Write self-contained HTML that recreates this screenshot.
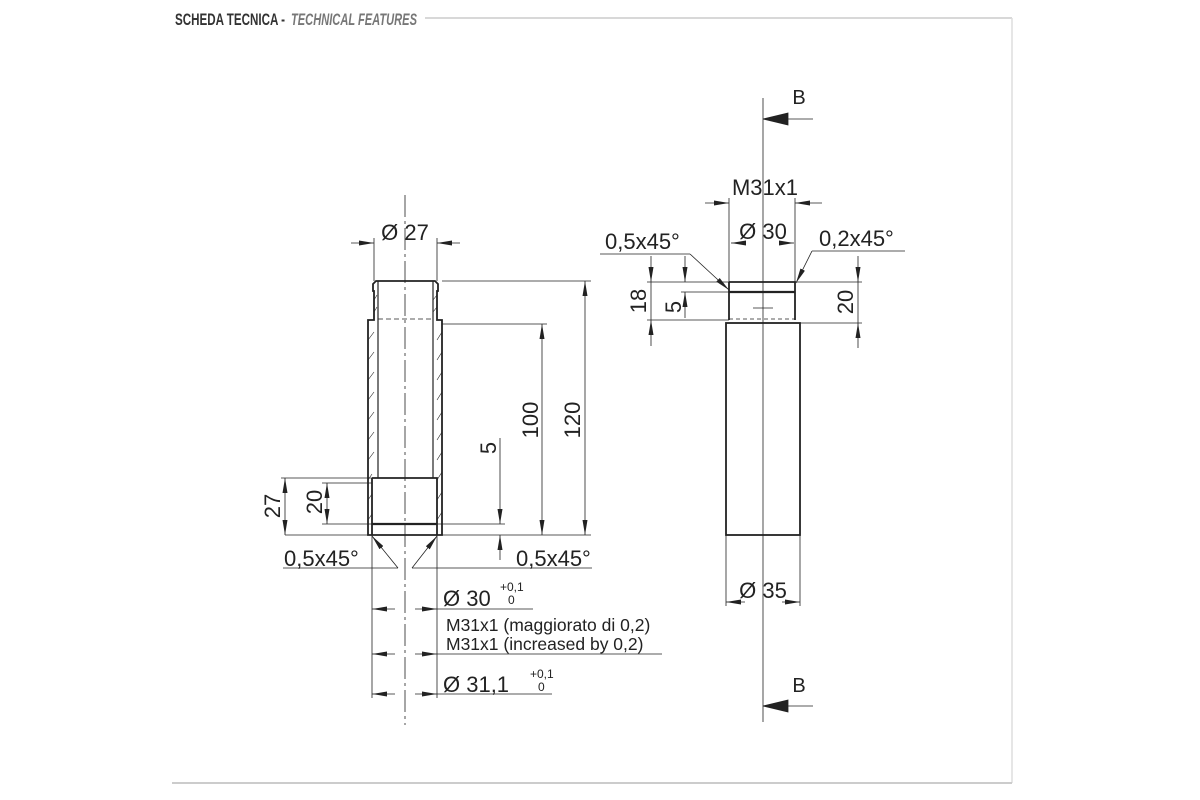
<!DOCTYPE html>
<html><head><meta charset="utf-8"><style>
html,body{margin:0;padding:0;background:#fff;}
svg{display:block;}
text{font-family:"Liberation Sans",sans-serif;fill:#222;}
</style></head><body>
<svg width="1200" height="800" viewBox="0 0 1200 800" xmlns="http://www.w3.org/2000/svg">
<defs>
<marker id="a" viewBox="0 0 10 10" refX="10" refY="5" markerWidth="15" markerHeight="5" markerUnits="userSpaceOnUse" orient="auto-start-reverse" preserveAspectRatio="none"><path d="M0,0 L10,5 L0,10 z" fill="#222"/></marker>
</defs>
<!-- header / frame -->
<text x="175" y="25" style="font-family:'Liberation Sans Narrow','Liberation Sans',sans-serif;font-weight:bold;font-size:17px;fill:#333" textLength="110" lengthAdjust="spacingAndGlyphs">SCHEDA TECNICA -</text>
<text x="291" y="25" style="font-family:'Liberation Sans Narrow','Liberation Sans',sans-serif;font-weight:bold;font-style:italic;font-size:17px;fill:#777" textLength="126" lengthAdjust="spacingAndGlyphs">TECHNICAL FEATURES</text>
<line x1="425" y1="18" x2="1012" y2="18" stroke="#ccc" stroke-width="1.5"/>
<line x1="1012" y1="18" x2="1012" y2="783" stroke="#ddd" stroke-width="1.5"/>
<line x1="172" y1="783" x2="1012" y2="783" stroke="#ccc" stroke-width="2"/>

<g stroke="#222" fill="none" stroke-width="0.8">
<!-- LEFT PART -->
<line x1="405" y1="195" x2="405" y2="725" stroke-dasharray="22,4,3,4"/>
<path d="M376,281 L435,281 L438,284 L438,291 L437,291 L437,320 L442,320 L442,535 L368,535 L368,320 L374,320 L374,291 L373,291 L373,284 Z" stroke-width="1.8"/>
<line x1="378" y1="281" x2="378" y2="478" stroke-width="1.2"/>
<line x1="433" y1="281" x2="433" y2="478" stroke-width="1.2"/>
<line x1="378" y1="319" x2="433" y2="319" stroke-dasharray="5,3"/>
<path d="M372,478 L437,478 L437,535 M372,478 L372,535" stroke-width="1.8"/>
<line x1="372" y1="524" x2="437" y2="524" stroke-width="2.2"/>
<g stroke-width="0.6">
<path d="M368,340 l6,-8 M368,360 l6,-8 M368,380 l6,-8 M368,400 l6,-8 M368,420 l6,-8 M368,440 l6,-8 M368,460 l6,-8 M368,480 l4,-6 M368,500 l4,-6 M368,520 l4,-6"/>
<path d="M437,340 l5,-8 M437,360 l5,-8 M437,380 l5,-8 M437,400 l5,-8 M437,420 l5,-8 M437,440 l5,-8 M437,460 l5,-8 M437,480 l5,-8 M437,500 l5,-8 M437,520 l5,-8"/>
<path d="M374,300 l3,-5 M374,312 l3,-5 M433,300 l4,-5 M433,312 l4,-5"/>
</g>
<line x1="374" y1="281" x2="374" y2="238"/><line x1="437" y1="281" x2="437" y2="238"/>
<line x1="351" y1="243" x2="374" y2="243" marker-end="url(#a)"/>
<line x1="460" y1="243" x2="437" y2="243" marker-end="url(#a)"/>
<line x1="442" y1="281" x2="591" y2="281"/>
<line x1="442" y1="535" x2="591" y2="535"/>
<line x1="285" y1="535" x2="368" y2="535"/>
<line x1="585" y1="281" x2="585" y2="535" marker-start="url(#a)" marker-end="url(#a)"/>
<line x1="442" y1="324" x2="547" y2="324"/>
<line x1="542" y1="324" x2="542" y2="535" marker-start="url(#a)" marker-end="url(#a)"/>
<line x1="437" y1="524" x2="505" y2="524"/>
<line x1="500" y1="438" x2="500" y2="524" marker-end="url(#a)"/>
<line x1="500" y1="560" x2="500" y2="535" marker-end="url(#a)"/>
<line x1="281" y1="478" x2="372" y2="478"/>
<line x1="322" y1="483" x2="372" y2="483"/>
<line x1="322" y1="524" x2="372" y2="524"/>
<line x1="285" y1="478" x2="285" y2="535" marker-start="url(#a)" marker-end="url(#a)"/>
<line x1="327" y1="483" x2="327" y2="524" marker-start="url(#a)" marker-end="url(#a)"/>
<line x1="283" y1="568" x2="398" y2="568"/>
<line x1="398" y1="568" x2="372" y2="536" marker-end="url(#a)"/>
<line x1="412" y1="568" x2="592" y2="568"/>
<line x1="412" y1="568" x2="437" y2="536" marker-end="url(#a)"/>
<line x1="372" y1="535" x2="372" y2="698"/>
<line x1="437" y1="535" x2="437" y2="698"/>
<line x1="395" y1="609" x2="372" y2="609" marker-end="url(#a)"/>
<line x1="415" y1="609" x2="437" y2="609" marker-end="url(#a)"/>
<line x1="437" y1="609" x2="533" y2="609"/>
<line x1="395" y1="654" x2="372" y2="654" marker-end="url(#a)"/>
<line x1="415" y1="654" x2="437" y2="654" marker-end="url(#a)"/>
<line x1="437" y1="654" x2="662" y2="654"/>
<line x1="395" y1="694" x2="372" y2="694" marker-end="url(#a)"/>
<line x1="415" y1="694" x2="437" y2="694" marker-end="url(#a)"/>
<line x1="437" y1="694" x2="552" y2="694"/>

<!-- RIGHT PART -->
<line x1="763" y1="98" x2="763" y2="722"/>
<line x1="813" y1="119" x2="763" y2="119"/>
<path d="M763,119 L788,113 L788,125 Z" fill="#222"/>
<line x1="813" y1="706" x2="763" y2="706"/>
<path d="M763,706 L788,700 L788,712 Z" fill="#222"/>
<path d="M729,282 L795,282 L795,320 M729,282 L729,320" stroke-width="1.8"/>
<line x1="729" y1="292" x2="795" y2="292" stroke-width="2.2"/>
<line x1="729" y1="319" x2="795" y2="319" stroke-dasharray="4,3"/>
<line x1="753" y1="308" x2="773" y2="308"/>
<rect x="726" y="323" width="74" height="212" stroke-width="1.8"/>
<line x1="729" y1="282" x2="729" y2="198"/>
<line x1="795" y1="282" x2="795" y2="198"/>
<line x1="705" y1="203" x2="729" y2="203" marker-end="url(#a)"/>
<line x1="822" y1="203" x2="795" y2="203" marker-end="url(#a)"/>
<line x1="745" y1="243" x2="731" y2="243" marker-end="url(#a)"/>
<line x1="780" y1="243" x2="794" y2="243" marker-end="url(#a)"/>
<line x1="647" y1="282" x2="729" y2="282"/>
<line x1="681" y1="292" x2="729" y2="292"/>
<line x1="647" y1="320" x2="729" y2="320"/>
<line x1="651" y1="256" x2="651" y2="282" marker-end="url(#a)"/>
<line x1="651" y1="346" x2="651" y2="320" marker-end="url(#a)"/>
<line x1="651" y1="282" x2="651" y2="320"/>
<line x1="685" y1="256" x2="685" y2="282" marker-end="url(#a)"/>
<line x1="685" y1="318" x2="685" y2="292" marker-end="url(#a)"/>
<line x1="795" y1="282" x2="862" y2="282"/>
<line x1="800" y1="323" x2="862" y2="323"/>
<line x1="858" y1="256" x2="858" y2="282" marker-end="url(#a)"/>
<line x1="858" y1="348" x2="858" y2="323" marker-end="url(#a)"/>
<line x1="858" y1="282" x2="858" y2="323"/>
<line x1="600" y1="254" x2="690" y2="254"/>
<line x1="690" y1="254" x2="729" y2="290" marker-end="url(#a)"/>
<line x1="812" y1="251" x2="905" y2="251"/>
<line x1="812" y1="251" x2="796" y2="283" marker-end="url(#a)"/>
<line x1="726" y1="535" x2="726" y2="606"/>
<line x1="800" y1="535" x2="800" y2="606"/>
<line x1="745" y1="602" x2="726" y2="602" marker-end="url(#a)"/>
<line x1="782" y1="602" x2="800" y2="602" marker-end="url(#a)"/>
</g>

<g font-size="22">
<text x="405" y="240" text-anchor="middle">Ø 27</text>
<text transform="translate(580,420) rotate(-90)" text-anchor="middle">120</text>
<text transform="translate(538,420) rotate(-90)" text-anchor="middle">100</text>
<text transform="translate(496,448) rotate(-90)" text-anchor="middle">5</text>
<text transform="translate(280,506) rotate(-90)" text-anchor="middle">27</text>
<text transform="translate(322,502) rotate(-90)" text-anchor="middle">20</text>
<text x="284" y="566">0,5x45°</text>
<text x="516" y="566">0,5x45°</text>
<text x="443" y="606">Ø 30</text>
<text x="443" y="692">Ø 31,1</text>
<text x="799" y="104" text-anchor="middle" font-size="20">B</text>
<text x="799" y="692" text-anchor="middle" font-size="20">B</text>
<text x="765" y="195" text-anchor="middle">M31x1</text>
<text x="763" y="239" text-anchor="middle">Ø 30</text>
<text x="605" y="249">0,5x45°</text>
<text x="819" y="246">0,2x45°</text>
<text transform="translate(646,301) rotate(-90)" text-anchor="middle">18</text>
<text transform="translate(681,307) rotate(-90)" text-anchor="middle">5</text>
<text transform="translate(853,302) rotate(-90)" text-anchor="middle">20</text>
<text x="763" y="598" text-anchor="middle">Ø 35</text>
</g>
<g font-size="12">
<text x="500" y="591">+0,1</text>
<text x="508" y="604">0</text>
<text x="530" y="678">+0,1</text>
<text x="538" y="691">0</text>
</g>
<g font-size="17.5">
<text x="446" y="631">M31x1 (maggiorato di 0,2)</text>
<text x="446" y="650">M31x1 (increased by 0,2)</text>
</g>
</svg>
</body></html>
